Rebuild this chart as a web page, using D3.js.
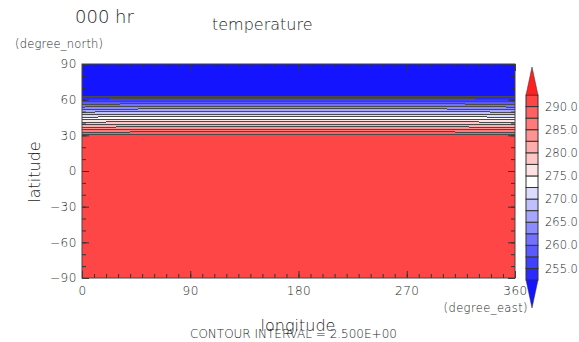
<!DOCTYPE html>
<html>
<head>
<meta charset="utf-8">
<script src="https://cdn.jsdelivr.net/npm/d3@7"></script>
<style>
  html, body { margin: 0; padding: 0; background: #fff; }
  svg { display: block; }
  text { font-family: "DejaVu Sans", sans-serif; font-weight: 200; fill: #1e1e1e; }
</style>
</head>
<body>
<svg id="chart" width="579" height="342"></svg>
<script>
// ---- data -------------------------------------------------------------
const lonTicks = [0, 90, 180, 270, 360];
const latTicks = [90, 60, 30, 0, -30, -60, -90];
const lonMinor = d3.range(0, 361, 10);
const latMinor = d3.range(-90, 91, 10);

// contour levels (K), interval 2.5
const levels = [252.5, 255, 257.5, 260, 262.5, 265, 267.5, 270, 272.5,
                275, 277.5, 280, 282.5, 285, 287.5, 290, 292.5];
// fill colour for each interval: below first level, between levels, above last
const bandColors = ["#1414ff",
  "#2a2aff", "#4040ff", "#5a5aff", "#7272ff", "#8c8cff", "#a6a6ff", "#c0c0ff", "#dcdcff",
  "#ffffff",
  "#ffe2e2", "#ffc6c6", "#ffacac", "#ff9292", "#ff7a7a", "#ff6262", "#ff4646",
  "#ff2020"];
const cbarLabels = [290, 285, 280, 275, 270, 265, 260, 255];

// zonal-mean temperature profile (K)
const southTemp = 290.8;                       // lat < 30
const frontLat  = [30, 32.5, 35, 37.5, 40, 42.5, 45, 47.5, 50, 52.5, 55, 57.5, 60, 62.5, 65];
const frontTemp = [290.8, 287.9, 285.0, 282.1, 279.2, 276.3, 273.4, 270.4,
                   267.5, 264.6, 261.7, 258.8, 255.9, 253.0, 250.3];
const northTemp = 250.3;                       // lat > 65
// small zonal disturbance inside the front, by longitude (K), 0..360 every 10
const frontPert = [-0.6, -0.45, -0.3, -0.15, -0.05, 0, 0, 0, 0, 0, 0, 0, 0, 0, 0, 0, 0, 0, 0,
                   0, 0, 0, 0, 0, 0, 0, 0, 0, 0, 0, 0, -0.05, -0.15, -0.3, -0.45, -0.55, -0.6];

// ---- grid -------------------------------------------------------------
const dLat = 2.5, dLon = 10;
const gridLat = d3.range(-90, 90 + 1e-9, dLat);
const gridLon = d3.range(0, 360 + 1e-9, dLon);
const nx = gridLon.length, ny = gridLat.length;
const values = new Array(nx * ny);
gridLat.forEach((lat, j) => {
  let t, inFront = false;
  if (lat < frontLat[0]) t = southTemp;
  else if (lat > frontLat[frontLat.length - 1]) t = northTemp;
  else {
    const k = frontLat.findIndex(v => Math.abs(v - lat) < 1e-6);
    t = frontTemp[k];
    inFront = k > 0 && k < frontLat.length - 1;
  }
  gridLon.forEach((lon, i) => { values[j * nx + i] = t + (inFront ? frontPert[i] : 0); });
});

// ---- layout -----------------------------------------------------------
const svg = d3.select("#chart");
const x = d3.scaleLinear([0, 360], [82, 515]);
const y = d3.scaleLinear([-90, 90], [278, 64]);
const cb = d3.scaleLinear([252.5, 292.5], [280, 95]);

// grid-coordinate -> screen projection for contour geometry
const proj = d3.geoTransform({
  point(gx, gy) {
    this.stream.point(x((gx - 0.5) * dLon), y(-90 + (gy - 0.5) * dLat));
  }
});
const path = d3.geoPath(proj);

svg.append("clipPath").attr("id", "plotClip")
  .append("rect")
  .attr("x", x(0)).attr("y", y(90))
  .attr("width", x(360) - x(0)).attr("height", y(-90) - y(90));

const plot = svg.append("g").attr("clip-path", "url(#plotClip)");
plot.append("rect")
  .attr("x", x(0)).attr("y", y(90))
  .attr("width", x(360) - x(0)).attr("height", y(-90) - y(90))
  .attr("fill", bandColors[0]);

const contours = d3.contours().size([nx, ny]).thresholds(levels)(values);
plot.selectAll("path.band").data(contours).join("path")
  .attr("class", "band")
  .attr("d", path)
  .attr("fill", (d, k) => bandColors[k + 1])
  .attr("shape-rendering", "crispEdges");
plot.selectAll("path.iso").data(contours).join("path")
  .attr("class", "iso")
  .attr("d", path)
  .attr("fill", "none")
  .attr("stroke", "#4a4a4a")
  .attr("stroke-width", 1)
  .attr("shape-rendering", "crispEdges");

// ---- axes -------------------------------------------------------------
function styleAxis(g) {
  g.select(".domain").remove();
  g.selectAll(".tick line").attr("stroke", "#333");
  g.selectAll(".tick text").attr("fill", "#1e1e1e")
    .style("font-family", "DejaVu Sans, sans-serif").style("font-weight", 200);
}
// minor ticks all round
svg.append("g").attr("transform", `translate(${x(0)},0)`)
  .call(d3.axisLeft(y).tickValues(latMinor).tickSize(-4).tickFormat(""))
  .call(styleAxis);
svg.append("g").attr("transform", `translate(${x(360)},0)`)
  .call(d3.axisRight(y).tickValues(latMinor).tickSize(-4).tickFormat(""))
  .call(styleAxis);
svg.append("g").attr("transform", `translate(0,${y(-90)})`)
  .call(d3.axisBottom(x).tickValues(lonMinor).tickSize(-4).tickFormat(""))
  .call(styleAxis);
svg.append("g").attr("transform", `translate(0,${y(90)})`)
  .call(d3.axisTop(x).tickValues(lonMinor).tickSize(-4).tickFormat(""))
  .call(styleAxis);
// major ticks with labels
svg.append("g").attr("transform", `translate(${x(0)},0)`)
  .call(d3.axisLeft(y).tickValues(latTicks).tickSize(-7).tickPadding(5))
  .call(styleAxis)
  .call(g => g.selectAll(".tick text").attr("font-size", 12).attr("letter-spacing", 0.6));
svg.append("g").attr("transform", `translate(${x(360)},0)`)
  .call(d3.axisRight(y).tickValues(latTicks).tickSize(-7).tickFormat(""))
  .call(styleAxis);
svg.append("g").attr("transform", `translate(0,${y(-90)})`)
  .call(d3.axisBottom(x).tickValues(lonTicks).tickSize(-7).tickPadding(8))
  .call(styleAxis)
  .call(g => g.selectAll(".tick text").attr("font-size", 12).attr("letter-spacing", 0.6));
svg.append("g").attr("transform", `translate(0,${y(90)})`)
  .call(d3.axisTop(x).tickValues(lonTicks).tickSize(-7).tickFormat(""))
  .call(styleAxis);

// frame
svg.append("rect")
  .attr("x", x(0)).attr("y", y(90))
  .attr("width", x(360) - x(0)).attr("height", y(-90) - y(90))
  .attr("fill", "none").attr("stroke", "#444").attr("stroke-width", 1);

// ---- colour bar -------------------------------------------------------
const cbX = 526, cbW = 12;
const cbar = svg.append("g");
const boxes = levels.slice(0, -1).map((lo, k) => ({ lo, hi: levels[k + 1], color: bandColors[k + 1] }));
cbar.selectAll("rect").data(boxes).join("rect")
  .attr("x", cbX).attr("width", cbW)
  .attr("y", d => cb(d.hi)).attr("height", d => cb(d.lo) - cb(d.hi))
  .attr("fill", d => d.color)
  .attr("stroke", "#333").attr("stroke-width", 1);
// end triangles for values outside the level range
const topY = cb(levels[levels.length - 1]), botY = cb(levels[0]);
cbar.append("path")
  .attr("d", `M${cbX},${topY}L${cbX + cbW / 2},${topY - 28}L${cbX + cbW},${topY}Z`)
  .attr("fill", bandColors[bandColors.length - 1]).attr("stroke", "#333").attr("stroke-width", 0.5);
cbar.append("path")
  .attr("d", `M${cbX},${botY}L${cbX + cbW / 2},${botY + 28}L${cbX + cbW},${botY}Z`)
  .attr("fill", bandColors[0]).attr("stroke", "#333").attr("stroke-width", 0.5);
cbar.selectAll("text").data(cbarLabels).join("text")
  .attr("x", 545).attr("y", d => cb(d))
  .attr("dy", "0.36em")
  .attr("font-size", 11.5)
  .text(d => d3.format(".1f")(d));

// ---- titles and labels ------------------------------------------------
svg.append("text").attr("x", 75).attr("y", 23).attr("font-size", 18).text("000 hr");
svg.append("text").attr("x", 212).attr("y", 30).attr("font-size", 16).text("temperature");
svg.append("text").attr("x", 15).attr("y", 48).attr("font-size", 11.5).attr("letter-spacing", 0.2).text("(degree_north)");
svg.append("text").attr("x", 528).attr("y", 312).attr("font-size", 11.5).attr("letter-spacing", 0.4)
  .attr("text-anchor", "end").text("(degree_east)");
svg.append("text").attr("transform", "translate(40,172) rotate(-90)")
  .attr("text-anchor", "middle").attr("font-size", 16).text("latitude");
svg.append("text").attr("x", 298).attr("y", 331).attr("text-anchor", "middle")
  .attr("font-size", 16).text("longitude");
svg.append("text").attr("x", 190).attr("y", 338).attr("font-size", 12)
  .text("CONTOUR INTERVAL = 2.500E+00");
</script>
</body>
</html>
